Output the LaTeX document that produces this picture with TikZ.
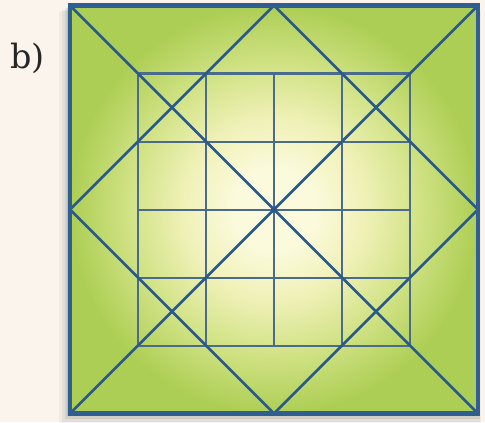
\documentclass[tikz,border=0pt]{standalone}
\usepackage{tikz}
\usepackage{fontspec}
\newfontfamily\labfont{DejaVu Serif}
\definecolor{bg}{HTML}{FBF4EC}
\definecolor{lineblue}{HTML}{2A5A8C}
\definecolor{gridblue}{HTML}{4A6B8C}
\definecolor{edgeblue}{HTML}{2F5E92}
\definecolor{pale}{HTML}{FBFADC}
\definecolor{palemid}{HTML}{F0F1B8}
\definecolor{midgreen}{HTML}{D0E284}
\definecolor{leaf}{HTML}{ADCE54}
\pgfdeclareradialshading{squareglow}{\pgfpoint{0bp}{0bp}}{%
  color(0bp)=(pale); color(5bp)=(pale); color(11bp)=(palemid);
  color(18bp)=(midgreen); color(25bp)=(leaf); color(50bp)=(leaf)}
\tikzset{
  diag/.style={draw=lineblue, line width=1.1pt},
  gridline/.style={draw=gridblue, line width=0.85pt},
  frame/.style={draw=edgeblue, line width=1.8pt}
}
\begin{document}
\begin{tikzpicture}
\useasboundingbox[fill=bg] (-4.029,-3.125) rectangle (3.103,3.081);
% soft shadow
\foreach \d/\o in {0.16/0.04,0.12/0.05,0.08/0.07,0.04/0.09}{
  \fill[black,opacity=\o] (-3-\d,-3-\d) rectangle (3+\d*0.3,3-\d*0.5);
}
% coordinates
\coordinate (A) at (-3,3); \coordinate (B) at (3,3);
\coordinate (C) at (3,-3); \coordinate (D) at (-3,-3);
\coordinate (T) at (0,3); \coordinate (R) at (3,0);
\coordinate (Bm) at (0,-3); \coordinate (L) at (-3,0);
\coordinate (O) at (0,0);
% fill
\shade[shading=squareglow] (A) rectangle (C);
% grid
\foreach \i in {-2,-1,0,1,2}{
  \draw[gridline] (\i,-2) -- (\i,2);
  \draw[gridline] (-2,\i) -- (2,\i);
}
% diamond
\draw[diag] (T) -- (R) -- (Bm) -- (L) -- cycle;
% diagonals
\draw[diag] (A) -- (C);
\draw[diag] (B) -- (D);
% frame
\draw[frame] (A) rectangle (C);
\fill[lineblue] (O) circle (0.045);
% label
\node[font=\labfont\fontsize{14}{17}\selectfont, text=black!85] (lab) at (-3.62,2.22) {b)};
\end{tikzpicture}
\end{document}
